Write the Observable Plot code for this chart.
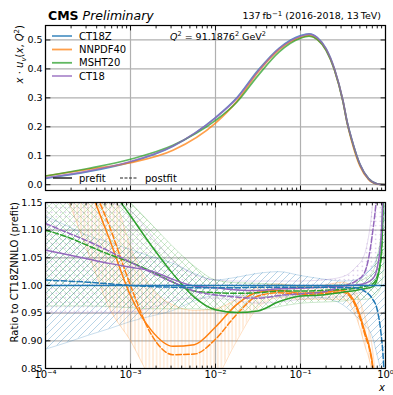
<!DOCTYPE html>
<html><head><meta charset="utf-8">
<script src="https://cdn.jsdelivr.net/npm/d3@7"></script>
<script src="https://cdn.jsdelivr.net/npm/@observablehq/plot@0.6"></script>
<style>
body{margin:0;background:#fff;font-family:"DejaVu Sans",sans-serif;}
#wrap{position:relative;width:393px;height:395px;overflow:hidden;background:#fff}
#wrap > svg{position:absolute;left:0}
</style></head><body><div id="wrap"></div>
<script>
// ---------- data ----------
const pdfNames = ["CT18Z", "NNPDF40", "MSHT20", "CT18"];
const pdfColors = ["#1f77b4", "#ff7f0e", "#2ca02c", "#9467bd"];
const hatchIds = ["hatchBlue", "hatchOrange", "hatchGreen", "hatchPurple"];

const xMajor = [1e-4, 1e-3, 1e-2, 1e-1, 1];
const xMinor = [2e-4,3e-4,4e-4,5e-4,6e-4,7e-4,8e-4,9e-4,2e-3,3e-3,4e-3,5e-3,6e-3,7e-3,8e-3,9e-3,
                0.02,0.03,0.04,0.05,0.06,0.07,0.08,0.09,0.2,0.3,0.4,0.5,0.6,0.7,0.8,0.9];
const yTopTicks = [0, 0.1, 0.2, 0.3, 0.4, 0.5];
const yRatioTicks = [0.85, 0.90, 0.95, 1.00, 1.05, 1.10, 1.15];

// top panel: x*u_v(x,Q^2) prefit
const xTop = [1e-4, 3.16e-4, 1e-3, 3.16e-3, 0.01, 0.0178, 0.0316, 0.0562, 0.1, 0.126, 0.158, 0.2, 0.251, 0.316, 0.355, 0.398, 0.501, 0.631, 0.794, 1.0];
const topCT18Z   = [0.022, 0.045, 0.078, 0.133, 0.232, 0.300, 0.395, 0.472, 0.515, 0.521, 0.508, 0.470, 0.400, 0.290, 0.215, 0.160, 0.070, 0.021, 0.003, 0.0];
const topNNPDF40 = [0.030, 0.053, 0.076, 0.119, 0.213, 0.288, 0.389, 0.467, 0.509, 0.515, 0.502, 0.465, 0.396, 0.287, 0.211, 0.153, 0.064, 0.018, 0.002, 0.0];
const topMSHT20  = [0.030, 0.056, 0.088, 0.136, 0.222, 0.285, 0.377, 0.459, 0.506, 0.513, 0.501, 0.464, 0.396, 0.287, 0.213, 0.158, 0.069, 0.021, 0.003, 0.0];
const topCT18    = [0.0235, 0.047, 0.080, 0.134, 0.231, 0.298, 0.392, 0.470, 0.513, 0.520, 0.507, 0.469, 0.400, 0.290, 0.215, 0.160, 0.070, 0.021, 0.003, 0.0];

// bottom panel: ratio to CT18ZNNLO (prefit)
const xRatio = [1e-4, 1.78e-4, 3.16e-4, 5.62e-4, 1e-3, 1.78e-3, 3.16e-3, 5.62e-3, 0.01, 0.0178, 0.0316, 0.0562, 0.1, 0.178, 0.316, 0.447, 0.562, 0.708, 0.794, 0.891, 0.93, 0.96, 0.99];
const ct18zPre  = [1,1,1,1,1,1,1,1,1,1,1,1,1,1,1,1,1,1,1,1,1,1,1];
const ct18zPost = [1.010, 1.008, 1.006, 1.003, 1.000, 0.998, 0.997, 0.996, 0.996, 0.996, 0.997, 0.997, 0.997, 0.997, 0.996, 0.996, 0.990, 0.975, 0.958, 0.910, 0.880, 0.845, 0.800];
const ct18zLo   = [0.885, 0.897, 0.910, 0.922, 0.935, 0.945, 0.955, 0.972, 0.982, 0.982, 0.980, 0.980, 0.982, 0.978, 0.965, 0.945, 0.930, 0.905, 0.875, 0.840, 0.820, 0.800, 0.780];
const ct18zHi   = [1.125, 1.108, 1.090, 1.078, 1.065, 1.052, 1.040, 1.022, 1.010, 1.015, 1.022, 1.025, 1.018, 1.012, 1.008, 1.010, 1.020, 1.035, 1.050, 1.080, 1.100, 1.120, 1.150];
const nnPre  = [1.38, 1.28, 1.184, 1.085, 0.982, 0.918, 0.890, 0.893, 0.925, 0.966, 0.988, 0.991, 0.986, 0.988, 0.991, 0.966, 0.920, 0.855, 0.780, 0.700, 0.650, 0.600, 0.550];
const nnPost = [1.40, 1.30, 1.20, 1.108, 1.000, 0.910, 0.875, 0.876, 0.903, 0.948, 0.981, 0.987, 0.984, 0.985, 0.988, 0.962, 0.915, 0.850, 0.770, 0.690, 0.640, 0.590, 0.540];
const nnLo   = [1.25, 1.16, 1.06, 0.96, 0.90, 0.83, 0.80, 0.80, 0.83, 0.90, 0.96, 0.978, 0.975, 0.975, 0.975, 0.945, 0.895, 0.83, 0.75, 0.66, 0.60, 0.55, 0.50];
const nnHi   = [1.55, 1.44, 1.32, 1.20, 1.07, 0.995, 0.965, 0.955, 0.958, 0.975, 0.997, 1.003, 0.998, 1.000, 1.006, 0.988, 0.948, 0.882, 0.810, 0.740, 0.700, 0.650, 0.600];
const mshtPre  = [1.38, 1.31, 1.24, 1.18, 1.126, 1.071, 1.021, 0.979, 0.956, 0.951, 0.954, 0.971, 0.981, 0.983, 0.988, 0.991, 0.994, 0.998, 1.010, 1.060, 1.140, 1.250, 1.400];
const mshtPost = [1.100, 1.088, 1.072, 1.056, 1.042, 1.025, 1.006, 0.990, 0.987, 0.986, 0.987, 0.990, 0.990, 0.991, 0.993, 0.995, 0.998, 1.003, 1.015, 1.050, 1.130, 1.250, 1.400];
const mshtLo   = [0.963, 0.963, 0.963, 0.962, 0.960, 0.958, 0.958, 0.958, 0.955, 0.952, 0.955, 0.962, 0.968, 0.970, 0.972, 0.975, 0.975, 0.978, 0.985, 1.000, 1.020, 1.050, 1.100];
const mshtHi   = [1.30, 1.27, 1.23, 1.19, 1.15, 1.11, 1.07, 1.035, 1.010, 1.005, 1.004, 1.002, 1.000, 1.000, 1.002, 1.006, 1.012, 1.025, 1.050, 1.100, 1.200, 1.300, 1.450];
const ct18Pre  = [1.064, 1.056, 1.048, 1.040, 1.033, 1.026, 1.011, 0.999, 0.996, 0.992, 0.991, 0.994, 0.995, 0.997, 0.999, 1.001, 1.003, 1.012, 1.030, 1.090, 1.160, 1.250, 1.400];
const ct18Post = [1.112, 1.096, 1.080, 1.062, 1.042, 1.023, 1.006, 0.990, 0.983, 0.979, 0.977, 0.982, 0.985, 0.988, 0.999, 1.008, 1.022, 1.098, 1.170, 1.300, 1.400, 1.500, 1.600];
const ct18Lo   = [0.951, 0.951, 0.951, 0.951, 0.952, 0.960, 0.972, 0.977, 0.977, 0.972, 0.968, 0.970, 0.975, 0.978, 0.980, 0.985, 0.990, 1.000, 1.020, 1.060, 1.100, 1.150, 1.200];
const ct18Hi   = [1.180, 1.170, 1.160, 1.150, 1.135, 1.090, 1.045, 1.020, 1.010, 1.008, 1.008, 1.008, 1.008, 1.010, 1.016, 1.033, 1.055, 1.150, 1.250, 1.400, 1.500, 1.600, 1.700];

// ---------- tables ----------
const topSeries = [topCT18Z, topNNPDF40, topMSHT20, topCT18];
const topRows = topSeries.flatMap((vals, i) => vals.map((v, j) => ({pdf: pdfNames[i], x: xTop[j], y: v})));
const ratioSeries = [
  {pre: ct18zPre, post: ct18zPost, lo: ct18zLo, hi: ct18zHi},
  {pre: nnPre, post: nnPost, lo: nnLo, hi: nnHi},
  {pre: mshtPre, post: mshtPost, lo: mshtLo, hi: mshtHi},
  {pre: ct18Pre, post: ct18Post, lo: ct18Lo, hi: ct18Hi}
];
const ratioRows = ratioSeries.map((s, i) => xRatio.map((x, j) => ({pdf: pdfNames[i], x, pre: s.pre[j], post: s.post[j], lo: s.lo[j], hi: s.hi[j]})));

// ---------- helpers ----------
const tickShape = {draw(ctx, l) { ctx.moveTo(0, 0); ctx.lineTo(0, -l); }};
function vt(values, opts) {
  return Plot.vector(values, {anchor: "start", shape: tickShape, stroke: "black", strokeWidth: 0.9, ...opts});
}
function inwardTicks(yTicks) {
  return [
    vt(xMajor, {x: d => d, frameAnchor: "bottom", rotate: 0, length: 4.5}),
    vt(xMajor, {x: d => d, frameAnchor: "top", rotate: 180, length: 4.5}),
    vt(xMinor, {x: d => d, frameAnchor: "bottom", rotate: 0, length: 2.5}),
    vt(xMinor, {x: d => d, frameAnchor: "top", rotate: 180, length: 2.5}),
    vt(yTicks, {y: d => d, frameAnchor: "left", rotate: 90, length: 4.5}),
    vt(yTicks, {y: d => d, frameAnchor: "right", rotate: -90, length: 4.5})
  ];
}
const supMap = {"-": "⁻", "0": "⁰", "1": "¹", "2": "²", "3": "³", "4": "⁴"};
const fmtPow = d => "10" + String(Math.round(Math.log10(d))).split("").map(c => supMap[c]).join("");
const gridStyle = {stroke: "#b0b0b0", strokeOpacity: 1, strokeWidth: 1.2};
const style = {fontFamily: "DejaVu Sans, sans-serif", fontSize: "10px", color: "black", background: "transparent", overflow: "visible"};

// ---------- top panel ----------
const topPlot = Plot.plot({
  width: 393, height: 192, marginLeft: 45, marginRight: 8, marginTop: 25, marginBottom: 2,
  style,
  x: {type: "log", domain: [1e-4, 1], axis: null, label: null},
  y: {domain: [-0.02, 0.55], axis: null, label: null},
  color: {domain: pdfNames, range: pdfColors},
  marks: [
    Plot.gridX(xMajor, gridStyle),
    Plot.gridY(yTopTicks, gridStyle),
    Plot.line(topRows, {x: "x", y: "y", z: "pdf", stroke: "pdf", strokeWidth: 1.7, strokeOpacity: 0.75, curve: "monotone-x", clip: true}),
    Plot.axisY(yTopTicks, {anchor: "left", tickSize: 0, tickPadding: 3, tickFormat: d3.format(".1f"), label: null, fontSize: 9.5}),
    ...inwardTicks(yTopTicks),
    Plot.frame({stroke: "black", strokeWidth: 1.2})
  ]
});
topPlot.style.top = "0px";

// ---------- bottom panel ----------
const bandMarks = ratioRows.flatMap((rows, i) => [
  Plot.areaY(rows, {x: "x", y1: "lo", y2: "hi", fill: `url(#${hatchIds[i]})`, curve: "monotone-x", clip: true}),
  Plot.line(rows, {x: "x", y: "lo", stroke: pdfColors[i], strokeOpacity: 0.3, strokeWidth: 0.8, curve: "monotone-x", clip: true}),
  Plot.line(rows, {x: "x", y: "hi", stroke: pdfColors[i], strokeOpacity: 0.3, strokeWidth: 0.8, curve: "monotone-x", clip: true})
]);
const lineMarks = [1, 2, 3, 0].flatMap(i => [
  Plot.line(ratioRows[i], {x: "x", y: "post", stroke: pdfColors[i], strokeWidth: 1.5, strokeDasharray: "5.5,2.4", curve: "monotone-x", clip: true}),
  Plot.line(ratioRows[i], {x: "x", y: "pre", stroke: pdfColors[i], strokeWidth: 1.5, curve: "monotone-x", clip: true})
]);
const botPlot = Plot.plot({
  width: 393, height: 203, marginLeft: 45, marginRight: 8, marginTop: 10, marginBottom: 27,
  style,
  x: {type: "log", domain: [1e-4, 1], axis: null, label: null},
  y: {domain: [0.85, 1.15], axis: null, label: null},
  marks: [
    Plot.gridX(xMajor, gridStyle),
    Plot.gridY(yRatioTicks, gridStyle),
    ...bandMarks,
    ...lineMarks,
    Plot.axisY(yRatioTicks, {anchor: "left", tickSize: 0, tickPadding: 3, tickFormat: d3.format(".2f"), label: null, fontSize: 9.5}),
    Plot.axisX(xMajor, {anchor: "bottom", tickSize: 0, tickPadding: 2, tickFormat: fmtPow, label: null, fontSize: 10}),
    ...inwardTicks(yRatioTicks),
    Plot.frame({stroke: "black", strokeWidth: 1.2})
  ]
});
botPlot.style.top = "192px";

// hatch patterns
(function addPatterns(svg) {
  const defs = d3.select(svg).insert("defs", ":first-child");
  const pat = (id, w, h) => defs.append("pattern").attr("id", id).attr("patternUnits", "userSpaceOnUse").attr("width", w).attr("height", h);
  pat("hatchBlue", 7, 7).append("path").attr("d", "M-1,1 L1,-1 M0,7 L7,0 M6,8 L8,6")
    .attr("stroke", "#1f77b4").attr("stroke-opacity", 0.4).attr("stroke-width", 0.8).attr("fill", "none");
  pat("hatchOrange", 3.6, 8).append("path").attr("d", "M1.8,0 V8")
    .attr("stroke", "#ff7f0e").attr("stroke-opacity", 0.35).attr("stroke-width", 0.8).attr("fill", "none");
  pat("hatchGreen", 7, 7).append("path").attr("d", "M-1,1 L1,-1 M0,7 L7,0 M6,8 L8,6 M0,0 L7,7 M-1,6 L1,8 M6,-1 L8,1")
    .attr("stroke", "#2ca02c").attr("stroke-opacity", 0.3).attr("stroke-width", 0.8).attr("fill", "none");
  pat("hatchPurple", 4.5, 4.5).append("circle").attr("cx", 2.25).attr("cy", 2.25).attr("r", 0.75)
    .attr("fill", "#9467bd").attr("fill-opacity", 0.5);
})(botPlot);

const wrap = document.getElementById("wrap");
wrap.appendChild(topPlot);
wrap.appendChild(botPlot);

// ---------- texts & legends overlay ----------
const ov = d3.select(wrap).append("svg").attr("width", 393).attr("height", 395)
  .style("top", "0px").style("font-family", "DejaVu Sans, sans-serif").style("pointer-events", "none");

const t1 = ov.append("text").attr("x", 48).attr("y", 20).attr("font-size", 12.5);
t1.append("tspan").attr("font-weight", "bold").text("CMS");
t1.append("tspan").attr("font-style", "italic").text(" Preliminary");

const t2 = ov.append("text").attr("x", 381).attr("y", 19).attr("font-size", 9.5).attr("text-anchor", "end");
t2.append("tspan").text("137\u2009fb");
t2.append("tspan").attr("dy", -3.5).attr("font-size", 7).text("−1");
t2.append("tspan").attr("dy", 3.5).text(" (2016-2018, 13\u2009TeV)");

const tq = ov.append("text").attr("x", 170).attr("y", 40).attr("font-size", 9.5);
tq.append("tspan").attr("font-style", "italic").text("Q");
tq.append("tspan").attr("dy", -4).attr("font-size", 6.5).text("2");
tq.append("tspan").attr("dy", 4).text(" = 91.1876");
tq.append("tspan").attr("dy", -4).attr("font-size", 6.5).text("2");
tq.append("tspan").attr("dy", 4).text(" GeV");
tq.append("tspan").attr("dy", -4).attr("font-size", 6.5).text("2");

// y label top
const yl = ov.append("text").attr("transform", "translate(23,25) rotate(-90)").attr("text-anchor", "end").attr("font-size", 10);
yl.append("tspan").attr("font-style", "italic").text("x");
yl.append("tspan").text(" · ");
yl.append("tspan").attr("font-style", "italic").text("u");
yl.append("tspan").attr("dy", 2.5).attr("font-size", 7).attr("font-style", "italic").text("v");
yl.append("tspan").attr("dy", -2.5).text("(");
yl.append("tspan").attr("font-style", "italic").text("x");
yl.append("tspan").text(", ");
yl.append("tspan").attr("font-style", "italic").text("Q");
yl.append("tspan").attr("dy", -4).attr("font-size", 7).text("2");
yl.append("tspan").attr("dy", 4).text(")");

ov.append("text").attr("transform", "translate(18,202) rotate(-90)").attr("text-anchor", "end").attr("font-size", 10)
  .text("Ratio to CT18ZNNLO (prefit)");
ov.append("text").attr("x", 385).attr("y", 391).attr("text-anchor", "end").attr("font-size", 10).attr("font-style", "italic").text("x");

// legend 1
const legY = [36, 49.5, 62.8, 76];
pdfNames.forEach((n, i) => {
  ov.append("line").attr("x1", 52).attr("x2", 72).attr("y1", legY[i]).attr("y2", legY[i])
    .attr("stroke", pdfColors[i]).attr("stroke-opacity", 0.75).attr("stroke-width", 1.8);
  ov.append("text").attr("x", 79).attr("y", legY[i] + 3.6).attr("font-size", 10).text(n);
});
// legend 2
ov.append("line").attr("x1", 53).attr("x2", 72).attr("y1", 178).attr("y2", 178).attr("stroke", "#222").attr("stroke-width", 1.5);
ov.append("text").attr("x", 79).attr("y", 181.6).attr("font-size", 10).text("prefit");
ov.append("line").attr("x1", 120).attr("x2", 138).attr("y1", 178).attr("y2", 178).attr("stroke", "#222").attr("stroke-width", 1.2).attr("stroke-dasharray", "3,1.5");
ov.append("text").attr("x", 145).attr("y", 181.6).attr("font-size", 10).text("postfit");
</script></body></html>
